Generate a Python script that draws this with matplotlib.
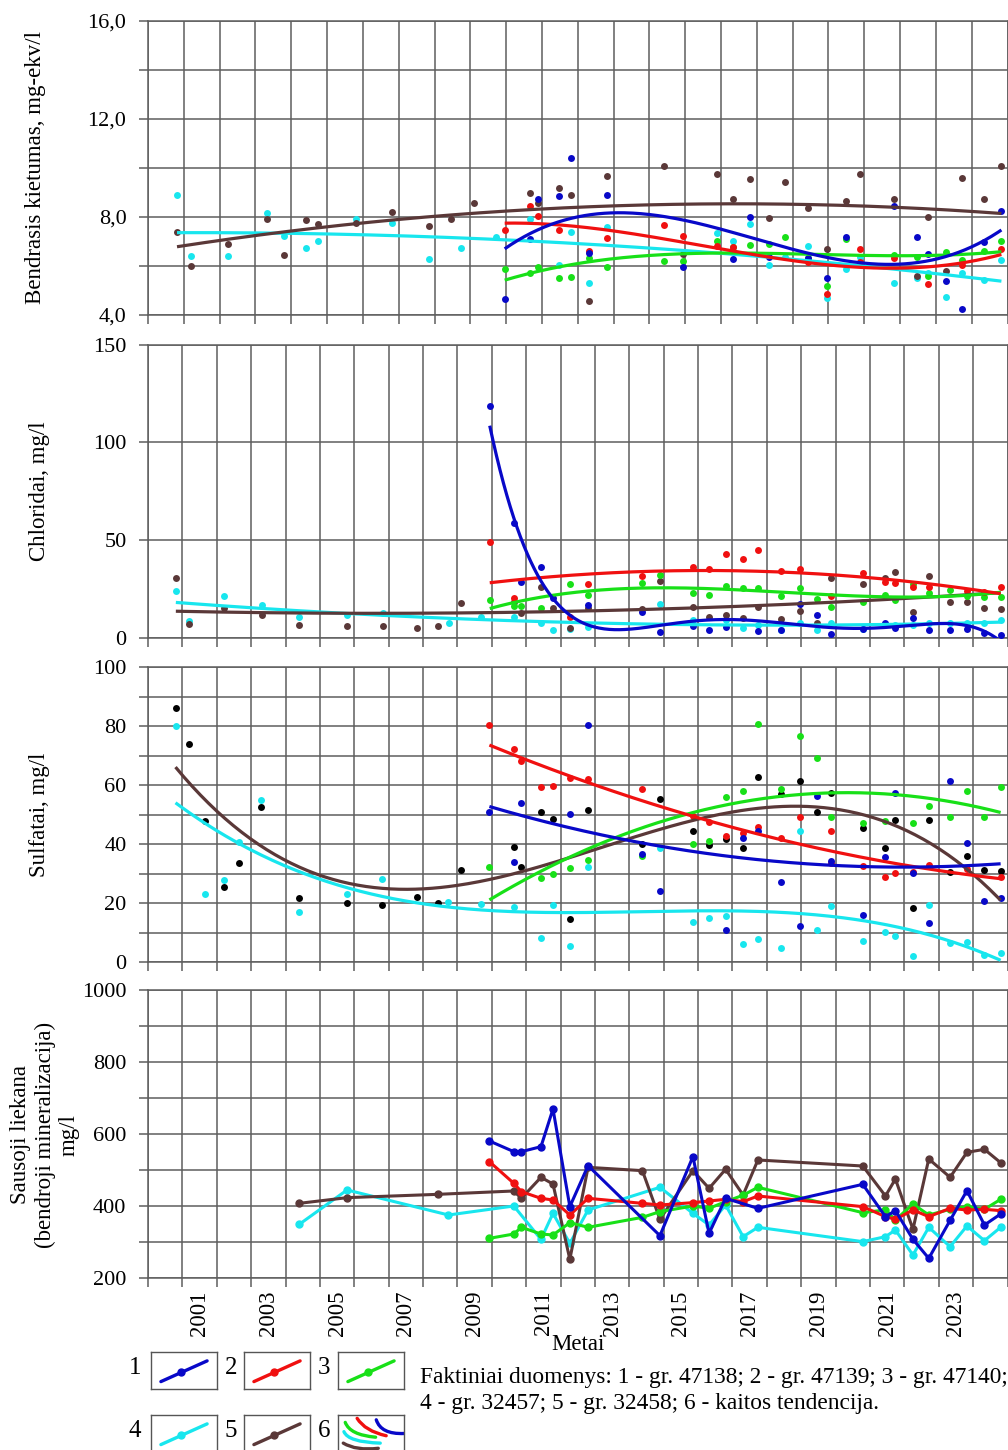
import numpy as np
import matplotlib
matplotlib.use("Agg")
from matplotlib import pyplot as plt
from matplotlib.path import Path
from matplotlib.patches import PathPatch
from numpy.polynomial import Polynomial

## Fonts
plt.rcParams.update({
    "font.family": "serif",
    "font.serif": ["Liberation Serif", "DejaVu Serif"],
    "font.size": 16,
})

W, H = 1008, 1450

# colours of the wells
C_BLUE = "#0808c8"
C_RED = "#f01010"
C_GREEN = "#18e018"
C_CYAN = "#18e6ee"
C_BROWN = "#5a3838"
C_GRID = "#5e5e5e"

# ---------------- data: Bendrasis kietumas (mg-ekv/l) ----------------
hard_blue_t = [2009.96, 2010.66, 2010.88, 2011.47, 2011.81, 2012.31, 2012.81, 2014.93, 2016.33, 2016.80, 2017.33,
               2018.42, 2018.95, 2019.48, 2020.82, 2021.46, 2021.77, 2022.27, 2022.72, 2023.33, 2023.83]
hard_blue_v = [4.64, 7.09, 8.74, 8.87, 10.39, 6.52, 8.91, 5.95, 6.27, 8.01, 6.38,
               6.34, 5.52, 7.17, 8.46, 7.17, 6.49, 5.39, 4.23, 6.99, 8.25]
hard_red_t = [2009.96, 2010.66, 2010.88, 2011.47, 2012.31, 2012.81, 2014.40, 2014.93, 2015.88, 2016.33, 2018.42,
              2018.95, 2019.87, 2019.87, 2020.82, 2021.77, 2022.72, 2023.83]
hard_red_v = [7.47, 8.45, 8.04, 7.47, 6.62, 7.13, 7.66, 7.22, 6.82, 6.76, 6.18,
              4.86, 6.68, 6.18, 6.31, 5.27, 6.04, 6.68]
hard_green_t = [2009.96, 2010.66, 2010.88, 2011.47, 2011.81, 2012.31, 2012.81, 2014.40, 2014.93, 2015.88, 2016.33,
                2016.80, 2017.33, 2017.78, 2018.42, 2018.95, 2019.48, 2020.82, 2021.46, 2021.77, 2022.27, 2022.72,
                2023.33, 2023.83]
hard_green_v = [5.86, 5.73, 5.97, 5.52, 5.54, 6.34, 5.97, 6.21, 6.21, 7.01, 6.76,
                6.86, 6.91, 7.19, 6.34, 5.19, 7.09, 6.43, 6.38, 5.59, 6.55, 6.25,
                6.62, 7.03]
hard_cyan_t = [2000.81, 2001.20, 2002.23, 2003.32, 2003.80, 2004.41, 2004.74, 2005.81, 2006.81, 2007.84, 2008.74,
               2009.71, 2010.66, 2011.47, 2011.81, 2012.31, 2012.81, 2015.88, 2016.33, 2016.80, 2017.33, 2017.78,
               2018.42, 2018.95, 2019.48, 2019.87, 2020.82, 2021.46, 2021.77, 2022.27, 2022.72, 2023.33, 2023.83]
hard_cyan_v = [8.91, 6.41, 6.41, 8.15, 7.24, 6.73, 7.02, 7.92, 7.77, 6.28, 6.73,
               7.17, 7.93, 6.04, 7.37, 5.32, 7.59, 7.36, 7.02, 7.71, 6.04, 6.38,
               6.8, 4.71, 5.86, 6.35, 5.32, 5.5, 5.7, 4.75, 5.73, 5.43, 6.24]
hard_brown_t = [2000.81, 2001.20, 2002.23, 2003.32, 2003.80, 2004.41, 2004.74, 2005.81, 2006.81, 2007.84, 2008.46,
                2009.10, 2010.66, 2010.88, 2011.47, 2011.81, 2012.31, 2012.81, 2014.40, 2014.93, 2015.88, 2016.33,
                2016.80, 2017.33, 2017.78, 2018.42, 2018.95, 2019.48, 2019.87, 2020.82, 2021.46, 2021.77, 2022.27,
                2022.72, 2023.33, 2023.83]
hard_brown_v = [7.37, 6.0, 6.88, 7.92, 6.46, 7.86, 7.71, 7.77, 8.2, 7.64, 7.9,
                8.57, 8.96, 8.58, 9.18, 8.91, 4.57, 9.67, 10.09, 6.49, 9.74, 8.72,
                9.53, 7.94, 9.41, 8.35, 6.71, 8.65, 9.75, 8.72, 5.59, 7.99, 5.8,
                9.57, 8.74, 10.09]

# ---------------- data: Chloridai (mg/l) ----------------
cl_blue_t = [2009.94, 2010.64, 2010.86, 2011.43, 2011.78, 2012.80, 2014.38, 2014.89, 2015.85, 2016.32, 2016.80,
             2017.74, 2018.40, 2018.95, 2019.46, 2019.87, 2020.79, 2021.45, 2021.74, 2022.25, 2022.71, 2023.33,
             2023.82, 2024.33, 2024.80]
cl_blue_v = [118.7, 58.7, 28.6, 36.1, 20.3, 16.9, 13.5, 2.9, 6.1, 4.1, 5.8,
             3.8, 4.1, 17.4, 11.8, 1.9, 4.4, 7.8, 5.3, 10.1, 4.1, 4.1,
             4.6, 2.4, 1.5]
cl_red_t = [2009.94, 2010.64, 2012.27, 2012.80, 2014.38, 2015.85, 2016.32, 2016.80, 2017.31, 2017.74, 2018.40,
            2018.95, 2019.87, 2020.79, 2021.45, 2021.74, 2022.25, 2022.71, 2023.82, 2024.33, 2024.80]
cl_red_v = [49.3, 20.6, 10.9, 27.6, 31.7, 36.5, 35.5, 43.0, 40.2, 45.0, 34.4,
            35.1, 21.5, 33.4, 28.8, 28.0, 25.9, 25.9, 24.0, 23.7, 25.9]
cl_green_t = [2009.94, 2010.64, 2010.86, 2011.43, 2012.27, 2012.80, 2014.38, 2014.89, 2015.85, 2016.32, 2016.80,
              2017.31, 2017.74, 2018.40, 2018.95, 2019.46, 2019.87, 2020.79, 2021.45, 2021.74, 2022.25, 2022.71,
              2023.33, 2023.82, 2024.33, 2024.80]
cl_green_v = [19.4, 16.4, 16.4, 15.2, 27.6, 22.0, 28.0, 32.1, 22.8, 22.0, 26.6,
              25.4, 25.7, 21.5, 25.7, 19.8, 15.7, 18.6, 22.0, 19.4, 27.6, 22.8,
              24.6, 21.5, 21.1, 21.1]
cl_cyan_t = [2000.81, 2001.19, 2002.21, 2003.31, 2004.39, 2005.78, 2006.83, 2008.75, 2009.68, 2010.64, 2011.43,
             2011.78, 2012.27, 2012.80, 2014.89, 2015.85, 2016.80, 2017.31, 2017.74, 2018.40, 2018.95, 2019.46,
             2019.87, 2020.79, 2021.45, 2021.74, 2022.25, 2022.71, 2023.33, 2023.82, 2024.33, 2024.80]
cl_cyan_v = [23.9, 8.9, 21.5, 17.0, 10.6, 11.6, 12.6, 7.5, 10.9, 10.7, 7.8,
             4.1, 4.6, 5.8, 17.2, 9.2, 9.2, 5.3, 6.6, 4.1, 7.8, 4.1,
             7.5, 4.4, 7.0, 6.6, 6.6, 7.5, 7.5, 7.8, 7.5, 9.2]
cl_brown_t = [2000.81, 2001.19, 2002.21, 2003.31, 2004.39, 2005.78, 2006.83, 2007.82, 2008.43, 2009.10, 2010.64,
              2010.86, 2011.43, 2011.78, 2012.27, 2012.80, 2014.38, 2014.89, 2015.85, 2016.32, 2016.80, 2017.31,
              2017.74, 2018.40, 2018.95, 2019.46, 2019.87, 2020.79, 2021.45, 2021.74, 2022.25, 2022.71, 2023.33,
              2023.82, 2024.33, 2024.80]
cl_brown_v = [30.8, 7.2, 15.5, 11.6, 6.6, 6.0, 6.3, 5.0, 6.3, 17.7, 18.6,
              13.0, 25.9, 15.5, 5.3, 15.2, 14.7, 29.3, 16.0, 10.6, 11.8, 10.1,
              16.0, 9.5, 13.8, 7.5, 30.5, 27.5, 30.5, 33.6, 13.5, 31.9, 18.2,
              18.6, 15.2, 14.7]

# ---------------- data: Sulfatai (mg/l) ----------------
so_blue_t = [2009.93, 2010.64, 2010.86, 2012.27, 2012.80, 2014.38, 2014.89, 2016.80, 2017.31, 2017.74, 2018.40,
             2018.95, 2019.46, 2019.87, 2020.79, 2021.45, 2021.74, 2022.25, 2022.71, 2023.33, 2023.82, 2024.33,
             2024.80]
so_blue_v = [50.7, 33.8, 53.8, 50.1, 80.3, 36.5, 24.0, 10.8, 42.1, 44.4, 27.2,
             12.2, 56.3, 34.4, 15.9, 35.7, 57.4, 30.1, 13.3, 61.5, 40.5, 20.8,
             21.8]
so_red_t = [2009.93, 2010.64, 2010.86, 2011.43, 2011.78, 2012.27, 2012.80, 2014.38, 2015.85, 2016.32, 2016.80,
            2017.31, 2017.74, 2018.40, 2018.95, 2019.87, 2019.87, 2020.79, 2021.45, 2021.74, 2022.25, 2022.71,
            2023.82, 2024.80]
so_red_v = [80.3, 72.1, 68.1, 59.4, 59.7, 62.5, 61.9, 58.5, 49.6, 47.3, 42.7,
            43.6, 45.6, 41.9, 49.3, 44.4, 33.7, 32.5, 28.9, 30.3, 30.6, 32.9,
            31.4, 28.9]
so_green_t = [2009.93, 2011.43, 2011.78, 2012.27, 2012.80, 2014.38, 2015.85, 2016.32, 2016.80, 2017.31, 2017.74,
              2018.40, 2018.95, 2019.46, 2019.87, 2020.79, 2021.45, 2022.25, 2022.71, 2023.33, 2023.82, 2024.33,
              2024.80]
so_green_v = [32.3, 28.5, 29.8, 31.8, 34.6, 35.9, 40.0, 41.1, 56.0, 58.1, 80.7,
              58.6, 76.6, 69.0, 49.3, 47.2, 47.8, 47.2, 53.0, 49.3, 57.9, 49.3,
              59.2]
so_cyan_t = [2000.80, 2001.66, 2002.21, 2002.65, 2003.30, 2004.40, 2005.79, 2006.82, 2008.74, 2009.68, 2010.64,
             2011.43, 2011.78, 2012.27, 2012.80, 2014.89, 2015.85, 2016.32, 2016.80, 2017.31, 2017.74, 2018.40,
             2018.95, 2019.46, 2019.87, 2020.79, 2021.45, 2021.74, 2022.25, 2022.71, 2023.33, 2023.82, 2024.33,
             2024.80]
so_cyan_v = [80.0, 22.9, 27.9, 40.6, 55.0, 16.8, 23.2, 28.2, 20.5, 19.7, 18.8,
             8.0, 19.2, 5.5, 32.3, 38.8, 13.7, 14.8, 15.6, 6.0, 7.9, 4.9,
             44.4, 10.8, 19.1, 7.2, 10.3, 8.9, 2.1, 19.3, 6.6, 6.9, 2.4,
             3.2]
so_brown_t = [2000.80, 2001.20, 2001.66, 2002.21, 2002.65, 2003.30, 2004.40, 2005.79, 2006.82, 2007.81, 2008.43,
              2009.09, 2010.64, 2010.86, 2011.43, 2011.78, 2012.27, 2012.80, 2014.38, 2014.89, 2015.85, 2016.32,
              2016.80, 2017.31, 2017.74, 2018.40, 2018.95, 2019.46, 2019.87, 2020.79, 2021.45, 2021.74, 2022.25,
              2022.71, 2023.33, 2023.82, 2024.33, 2024.80]
so_brown_v = [86.2, 73.8, 47.7, 25.4, 33.6, 52.5, 21.6, 20.1, 19.3, 21.9, 20.1,
              31.2, 38.9, 32.3, 51.0, 48.4, 14.5, 51.5, 39.9, 55.1, 44.4, 39.7,
              41.7, 38.5, 62.8, 56.8, 61.4, 51.0, 57.4, 45.5, 38.5, 48.1, 18.2,
              48.1, 30.6, 35.9, 31.2, 30.8]

# ---------------- data: Sausoji liekana (mg/l) ----------------
dr_blue_t = [2009.93, 2010.64, 2010.86, 2011.43, 2011.78, 2012.27, 2012.80, 2014.89, 2015.85, 2016.32, 2016.80,
             2017.74, 2020.79, 2021.45, 2021.74, 2022.25, 2022.71, 2023.33, 2023.82, 2024.33, 2024.80]
dr_blue_v = [580.6, 551, 551, 564.8, 669.5, 398.2, 512.1, 317.6, 537.1, 324.1, 421.3,
             393.5, 460.2, 370.4, 387.1, 307.4, 254.6, 360, 442.6, 347.2, 377.8]
dr_red_t = [2009.93, 2010.64, 2010.86, 2011.43, 2011.78, 2012.27, 2012.80, 2014.38, 2014.89, 2015.85, 2016.32,
            2016.80, 2017.31, 2017.74, 2020.79, 2021.45, 2021.74, 2022.25, 2022.71, 2023.33, 2023.82, 2024.33,
            2024.80]
dr_red_v = [523.2, 463, 439.8, 421.3, 416.7, 375, 421.3, 407.4, 402.8, 409.3, 413.9,
            418.5, 412, 427.8, 398.2, 370.4, 363, 388.9, 370.4, 393.5, 388.9, 390.8,
            387.1]
dr_green_t = [2009.93, 2010.64, 2010.86, 2011.43, 2011.78, 2012.27, 2012.80, 2014.38, 2014.89, 2015.85, 2016.32,
              2016.80, 2017.31, 2017.74, 2020.79, 2021.45, 2021.74, 2022.25, 2022.71, 2023.33, 2023.82, 2024.33,
              2024.80]
dr_green_v = [310.2, 322.2, 340.8, 322.2, 319.5, 353.7, 340.8, 368.5, 384.3, 400, 393.5,
              412, 430, 451.9, 381.5, 389, 361, 405.6, 375, 390.8, 398.2, 390.8,
              418.5]
dr_cyan_t = [2004.40, 2005.79, 2008.74, 2010.64, 2011.43, 2011.78, 2012.27, 2012.80, 2014.89, 2015.85, 2016.32,
             2016.80, 2017.31, 2017.74, 2020.79, 2021.45, 2021.74, 2022.25, 2022.71, 2023.33, 2023.82, 2024.33,
             2024.80]
dr_cyan_v = [349.1, 444.5, 375, 400, 307.4, 379.6, 296, 389, 451.9, 379.6, 347.2,
             402.8, 314.8, 340.8, 301, 314.8, 333.3, 263.9, 340.8, 287, 344.5, 303.7,
             340.8]
dr_brown_t = [2004.40, 2005.79, 2008.43, 2010.64, 2010.86, 2011.43, 2011.78, 2012.27, 2012.80, 2014.38, 2014.89,
              2015.85, 2016.32, 2016.80, 2017.31, 2017.74, 2020.79, 2021.45, 2021.74, 2022.25, 2022.71, 2023.33,
              2023.82, 2024.33, 2024.80]
dr_brown_v = [407.4, 423.2, 432.4, 441.7, 421.3, 479.7, 461.1, 251.9, 507.4, 498.2, 363,
              498.2, 449.1, 501.9, 430.6, 527.8, 511.1, 427.8, 475, 335.2, 530.6, 479.7,
              549.1, 557.4, 520.4]

year_labels = ["2001", "2003", "2005", "2007", "2009", "2011", "2013", "2015", "2017", "2019", "2021", "2023"]
hard_ticklabels = ["4,0", "8,0", "12,0", "16,0"]
legend_numbers = ["1", "2", "3", "4", "5", "6"]
legend_text = ["Faktiniai duomenys: 1 - gr. 47138; 2 - gr. 47139; 3 - gr. 47140;",
               "4 - gr. 32457; 5 - gr. 32458; 6 - kaitos tendencija."]


def px_axes(x0, y0, x1, y1):
    '''Axes rectangle from pixel box (top-left origin)'''
    return [x0 / W, 1 - y1 / H, (x1 - x0) / W, (y1 - y0) / H]


def setup_axes(ax, x_end, ylim, major, minor, labels=None):
    ax.set_xlim(2000, x_end)
    ax.set_ylim(*ylim)
    ax.set_yticks(major)
    ax.set_yticks(minor, minor=True)
    if labels is not None:
        ax.set_yticklabels(labels)
    ax.set_xticks(np.arange(2000, x_end + 1), minor=True)
    ax.set_xticks([])
    ax.xaxis.grid(True, which="minor", color=C_GRID, lw=1.1)
    ax.yaxis.grid(True, which="both", color=C_GRID, lw=1.1)
    ax.tick_params(axis="y", which="both", direction="out", length=6.5, width=1.1,
                   color=C_GRID, labelsize=16, pad=9)
    ax.tick_params(axis="x", which="minor", direction="out", length=6.5, width=1.1, color=C_GRID)
    for s in ax.spines.values():
        s.set_color(C_GRID)
        s.set_linewidth(1.1)
    ax.set_axisbelow(True)


def scatter_with_trend(ax, t, v, color, deg, point_color=None):
    t = np.asarray(t)
    v = np.asarray(v)
    ax.plot(t, v, "o", ms=5, color=point_color or color, mec="none", zorder=3)
    fit = Polynomial.fit(t, v, deg)
    tt = np.linspace(t.min(), t.max(), 300)
    ax.plot(tt, fit(tt), color=color, lw=2.3, zorder=4, solid_capstyle="butt")


fig = plt.figure(figsize=(W / 100, H / 100), dpi=100)

# ---- panel 1
ax1 = fig.add_axes(px_axes(148, 20.7, 1007.5, 315))
setup_axes(ax1, 2024, (4, 16), [4, 8, 12, 16], np.arange(4, 17, 2), hard_ticklabels)
scatter_with_trend(ax1, hard_cyan_t, hard_cyan_v, C_CYAN, 2)
scatter_with_trend(ax1, hard_brown_t, hard_brown_v, C_BROWN, 2)
scatter_with_trend(ax1, hard_green_t, hard_green_v, C_GREEN, 3)
scatter_with_trend(ax1, hard_red_t, hard_red_v, C_RED, 3)
scatter_with_trend(ax1, hard_blue_t, hard_blue_v, C_BLUE, 3)

# ---- panel 2
ax2 = fig.add_axes(px_axes(148, 344.7, 1007.5, 638))
setup_axes(ax2, 2025, (0, 150), [0, 50, 100, 150], [])
scatter_with_trend(ax2, cl_cyan_t, cl_cyan_v, C_CYAN, 2)
scatter_with_trend(ax2, cl_brown_t, cl_brown_v, C_BROWN, 2)
scatter_with_trend(ax2, cl_green_t, cl_green_v, C_GREEN, 3)
scatter_with_trend(ax2, cl_red_t, cl_red_v, C_RED, 2)
scatter_with_trend(ax2, cl_blue_t, cl_blue_v, C_BLUE, 5)

# ---- panel 3
ax3 = fig.add_axes(px_axes(148, 667, 1007.5, 962))
setup_axes(ax3, 2025, (0, 100), np.arange(0, 101, 20), np.arange(0, 101, 10))
scatter_with_trend(ax3, so_cyan_t, so_cyan_v, C_CYAN, 3)
scatter_with_trend(ax3, so_brown_t, so_brown_v, C_BROWN, 3, point_color="black")
scatter_with_trend(ax3, so_green_t, so_green_v, C_GREEN, 2)
scatter_with_trend(ax3, so_red_t, so_red_v, C_RED, 2)
scatter_with_trend(ax3, so_blue_t, so_blue_v, C_BLUE, 2)

# ---- panel 4
ax4 = fig.add_axes(px_axes(148, 990, 1007.5, 1278))
setup_axes(ax4, 2025, (200, 1000), np.arange(200, 1001, 200), np.arange(200, 1001, 100))
for t, v, c in [(dr_cyan_t, dr_cyan_v, C_CYAN), (dr_brown_t, dr_brown_v, C_BROWN),
                (dr_green_t, dr_green_v, C_GREEN), (dr_red_t, dr_red_v, C_RED),
                (dr_blue_t, dr_blue_v, C_BLUE)]:
    ax4.plot(t, v, "-o", color=c, lw=2.2, ms=5, zorder=3)
ax4.set_xticks([int(y) + 0.5 for y in year_labels])
ax4.set_xticklabels(year_labels, rotation=90, fontsize=16.5)
ax4.tick_params(axis="x", which="major", length=0, pad=9)

# axis titles
fig.text(36 / W, 1 - 167 / H, "Bendrasis kietumas, mg-ekv/l", rotation=90, ha="center", va="center", fontsize=16.5)
fig.text(40 / W, 1 - 491 / H, "Chloridai, mg/l", rotation=90, ha="center", va="center", fontsize=16.5)
fig.text(40 / W, 1 - 815 / H, "Sulfatai, mg/l", rotation=90, ha="center", va="center", fontsize=16.5)
fig.text(45 / W, 1 - 1135 / H, "Sausoji liekana\n(bendroji mineralizacija)\nmg/l", rotation=90,
         ha="center", va="center", multialignment="center", fontsize=16.5, linespacing=1.2)
fig.text(578 / W, 1 - 1345 / H, "Metai", ha="center", va="center", fontsize=16.5)

# ---- legend boxes
box_x = [151, 244, 338]
box_y = [1352, 1415]
num_x = [135, 231, 324]
colors = [C_BLUE, C_RED, C_GREEN, C_CYAN, C_BROWN]
for i, num in enumerate(legend_numbers):
    r, c = divmod(i, 3)
    bx = fig.add_axes(px_axes(box_x[c], box_y[r], box_x[c] + 66, box_y[r] + 37))
    bx.set_xlim(0, 1)
    bx.set_ylim(0, 1)
    bx.set_xticks([])
    bx.set_yticks([])
    for s in bx.spines.values():
        s.set_color("#555555")
        s.set_linewidth(1.0)
    fig.text(num_x[c] / W, 1 - (box_y[r] + 16) / H, num, ha="center", va="center", fontsize=18)
    if i < 5:
        bx.plot([0.15, 0.85], [0.2, 0.76], color=colors[i], lw=2.4, solid_capstyle="round")
        bx.plot([0.45], [0.46], "o", color=colors[i], ms=5)
    else:
        arcs = [(C_BLUE, (0.58, 0.87), (0.72, 0.58), (1.0, 0.5)),
                (C_RED, (0.29, 0.91), (0.46, 0.62), (0.73, 0.44)),
                (C_GREEN, (0.11, 0.80), (0.26, 0.53), (0.57, 0.40)),
                (C_CYAN, (0.09, 0.55), (0.26, 0.33), (0.64, 0.24)),
                (C_BROWN, (0.08, 0.24), (0.31, 0.10), (0.61, 0.10))]
        for col, p0, pm, p1 in arcs:
            p0, pm, p1 = np.array(p0), np.array(pm), np.array(p1)
            ctrl = 2 * pm - (p0 + p1) / 2
            path = Path([p0, ctrl, p1], [Path.MOVETO, Path.CURVE3, Path.CURVE3])
            bx.add_patch(PathPatch(path, fc="none", ec=col, lw=2.4, capstyle="round"))

fig.text(420 / W, 1 - 1378 / H, legend_text[0], ha="left", va="center", fontsize=16.8)
fig.text(420 / W, 1 - 1404 / H, legend_text[1], ha="left", va="center", fontsize=16.8)

fig.savefig("out.png", dpi=100)
